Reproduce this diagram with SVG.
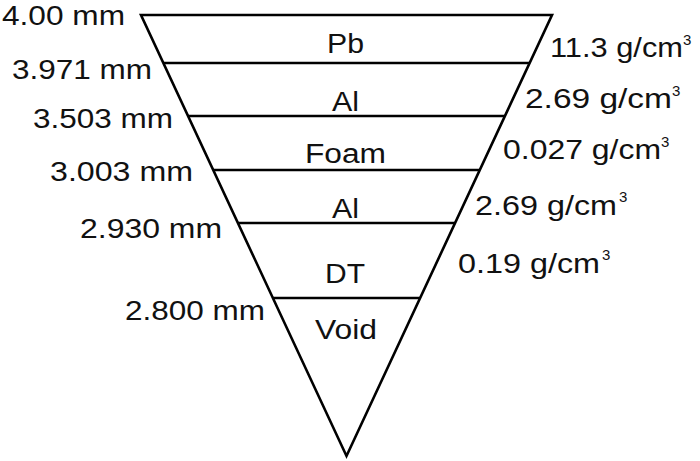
<svg xmlns="http://www.w3.org/2000/svg" width="700" height="461" viewBox="0 0 700 461">
<style>
  .ln { stroke: #000; stroke-width: 2.6; fill: none; stroke-linecap: butt; stroke-linejoin: miter; }
  text { font-family: "Liberation Sans", Arial, sans-serif; fill: #111; }
  .lbl { font-size: 27px; }
  .sup { font-size: 15px; }
  .mid { text-anchor: middle; }
</style>
<rect width="700" height="461" fill="#fff"/>
<g id="triangle">
  <polygon class="ln" points="141,15 552,15 346.5,456"/>
</g>
<g id="connectors">
  <line class="ln" x1="163.4" y1="63" x2="529.6" y2="63"/>
  <line class="ln" x1="188.1" y1="116" x2="504.9" y2="116"/>
  <line class="ln" x1="213.2" y1="170" x2="479.8" y2="170"/>
  <line class="ln" x1="237.9" y1="223" x2="455.1" y2="223"/>
  <line class="ln" x1="272.9" y1="298" x2="420.1" y2="298"/>
</g>
<g id="layer-pb">
  <text class="lbl mid" x="345.5" y="53" textLength="37" lengthAdjust="spacingAndGlyphs">Pb</text>
</g>
<g id="layer-al1">
  <text class="lbl mid" x="345.5" y="111" textLength="27" lengthAdjust="spacingAndGlyphs">Al</text>
</g>
<g id="layer-foam">
  <text class="lbl mid" x="345.5" y="163" textLength="81" lengthAdjust="spacingAndGlyphs">Foam</text>
</g>
<g id="layer-al2">
  <text class="lbl mid" x="345.5" y="218" textLength="27" lengthAdjust="spacingAndGlyphs">Al</text>
</g>
<g id="layer-dt">
  <text class="lbl mid" x="345" y="283" textLength="40" lengthAdjust="spacingAndGlyphs">DT</text>
</g>
<g id="layer-void">
  <text class="lbl mid" x="346" y="339" textLength="62" lengthAdjust="spacingAndGlyphs">Void</text>
</g>
<g id="radii">
  <text class="lbl" x="2" y="25" textLength="123" lengthAdjust="spacingAndGlyphs">4.00 mm</text>
  <text class="lbl" x="12" y="79" textLength="140" lengthAdjust="spacingAndGlyphs">3.971 mm</text>
  <text class="lbl" x="33" y="128" textLength="140" lengthAdjust="spacingAndGlyphs">3.503 mm</text>
  <text class="lbl" x="50" y="181" textLength="143" lengthAdjust="spacingAndGlyphs">3.003 mm</text>
  <text class="lbl" x="80" y="238" textLength="142" lengthAdjust="spacingAndGlyphs">2.930 mm</text>
  <text class="lbl" x="125" y="320" textLength="140" lengthAdjust="spacingAndGlyphs">2.800 mm</text>
</g>
<g id="densities">
  <text class="lbl" x="550" y="57" textLength="133" lengthAdjust="spacingAndGlyphs">11.3 g/cm</text>
  <text class="sup" x="683" y="45">3</text>
  <text class="lbl" x="525" y="108" textLength="147" lengthAdjust="spacingAndGlyphs">2.69 g/cm</text>
  <text class="sup" x="672" y="96">3</text>
  <text class="lbl" x="503" y="159" textLength="158" lengthAdjust="spacingAndGlyphs">0.027 g/cm</text>
  <text class="sup" x="661" y="147">3</text>
  <text class="lbl" x="475" y="215" textLength="142" lengthAdjust="spacingAndGlyphs">2.69 g/cm</text>
  <text class="sup" x="619" y="202">3</text>
  <text class="lbl" x="458" y="273" textLength="142" lengthAdjust="spacingAndGlyphs">0.19 g/cm</text>
  <text class="sup" x="602" y="260">3</text>
</g>
</svg>
